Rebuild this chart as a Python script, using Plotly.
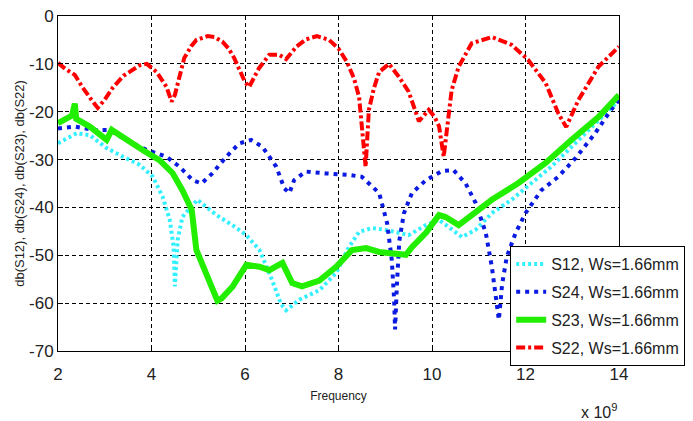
import plotly.graph_objects as go

# ---- data (frequency in units of 1e9 Hz, values in dB) ----
s12_x = [2.0, 2.2, 2.4, 2.68, 3.04, 3.39, 3.75, 4.03, 4.24, 4.39, 4.47, 4.5, 4.56, 4.66, 4.98, 5.39, 5.73, 6.03,
         6.31, 6.58, 6.77, 6.88, 7.16, 7.59, 7.95, 8.22, 8.44, 8.72, 9.01, 9.29, 9.5, 9.87, 10.15, 10.36, 10.64,
         10.93, 11.28, 11.7, 12.13, 12.55, 12.98, 13.41, 14.0]
s12_y = [-26.6, -25.5, -24.5, -24.9, -27.6, -29.4, -31.1, -33.6, -37.8, -42.6, -48.0, -56.5, -46.8, -42.0, -38.4,
         -41.6, -43.7, -45.8, -48.9, -55.2, -60.2, -61.5, -59.3, -57.3, -53.7, -48.3, -45.1, -44.3, -44.7, -45.3,
         -45.8, -43.7, -42.6, -44.1, -46.2, -44.7, -41.2, -38.4, -34.9, -31.5, -27.4, -23.2, -17.6]

s24_x = [2.0, 2.36, 2.75, 3.1, 3.47, 3.9, 4.32, 4.6, 4.88, 5.07, 5.3, 5.6, 5.88, 6.13, 6.37, 6.67, 6.84, 6.95,
         7.05, 7.3, 7.73, 8.22, 8.5, 8.87, 9.04, 9.14, 9.19, 9.21, 9.25, 9.3, 9.4, 9.57, 9.87, 10.21, 10.46, 10.72,
         10.93, 11.15, 11.28, 11.38, 11.43, 11.5, 11.6, 11.79, 12.0, 12.34, 12.7, 13.07, 13.49, 13.83, 14.0]
s24_y = [-23.5, -23.1, -23.8, -23.8, -26.0, -28.0, -29.4, -31.5, -34.3, -35.0, -32.9, -29.4, -26.6, -25.9, -27.3,
         -31.5, -36.0, -37.0, -34.3, -32.5, -32.9, -33.2, -33.6, -37.0, -43.3, -51.0, -59.3, -65.5, -56.0, -47.0,
         -41.2, -37.0, -34.3, -32.4, -32.2, -35.0, -39.0, -45.3, -52.4, -59.3, -63.5, -56.0, -50.3, -45.3, -41.2,
         -36.4, -33.6, -29.7, -24.5, -19.6, -17.6]

s23_x = [2.0, 2.26, 2.3, 2.36, 2.39, 2.68, 3.04, 3.15, 3.47, 3.81, 4.17, 4.45, 4.66, 4.86, 4.96, 5.18, 5.41, 5.5,
         5.73, 6.03, 6.31, 6.52, 6.8, 7.01, 7.22, 7.59, 7.95, 8.29, 8.59, 8.87, 9.44, 9.57, 9.87, 10.15, 10.29,
         10.57, 10.85, 11.28, 11.85, 12.43, 12.98, 13.56, 14.0]
s23_y = [-22.4, -21.1, -20.8, -18.3, -21.5, -23.1, -25.9, -23.8, -25.9, -28.0, -30.1, -32.8, -36.4, -40.5, -48.9,
         -54.5, -59.5, -59.0, -56.6, -52.0, -52.4, -53.1, -51.6, -55.8, -56.5, -55.3, -52.4, -48.9, -48.5, -49.3,
         -49.9, -48.3, -45.3, -41.6, -42.0, -43.7, -41.6, -38.4, -34.9, -30.7, -25.9, -21.1, -16.5]

s22_x = [2.0, 2.15, 2.36, 2.53, 2.7, 2.85, 3.0, 3.17, 3.4, 3.58, 3.75, 3.9, 4.11, 4.32, 4.43, 4.5, 4.56, 4.7, 4.85,
         4.96, 5.2, 5.35, 5.52, 5.65, 5.77, 5.9, 6.0, 6.09, 6.2, 6.3, 6.52, 6.73, 6.88, 7.1, 7.3, 7.54, 7.8, 8.0,
         8.18, 8.33, 8.44, 8.5, 8.55, 8.58, 8.65, 8.76, 8.87, 9.08, 9.29, 9.5, 9.72, 9.93, 10.05, 10.15, 10.25,
         10.32, 10.42, 10.57, 10.85, 11.28, 11.7, 12.06, 12.43, 12.7, 12.87, 13.13, 13.56, 14.0]
s22_y = [-9.8, -11.0, -12.3, -15.0, -17.3, -19.2, -17.5, -15.0, -12.5, -11.3, -10.3, -10.0, -11.7, -14.8, -17.9,
         -16.5, -14.0, -8.8, -6.3, -5.0, -4.2, -4.4, -5.4, -6.8, -8.8, -11.5, -13.8, -14.8, -12.8, -10.9, -8.1,
         -8.1, -9.0, -6.4, -4.9, -4.2, -5.0, -6.8, -9.6, -13.0, -16.9, -23.0, -27.0, -31.5, -19.6, -15.0, -11.7,
         -10.0, -12.7, -15.8, -22.0, -19.6, -21.0, -23.0, -29.4, -23.8, -15.5, -10.6, -5.7, -4.4, -6.0, -9.2,
         -14.0, -20.3, -23.2, -17.6, -10.6, -6.4]

names = ["S12, Ws=1.66mm", "S24, Ws=1.66mm", "S23, Ws=1.66mm", "S22, Ws=1.66mm"]
x_ticks = [2, 4, 6, 8, 10, 12, 14]
y_ticks = [0, -10, -20, -30, -40, -50, -60, -70]

FONT = "Arial, Liberation Sans, sans-serif"

fig = go.Figure()
fig.add_trace(go.Scatter(x=s12_x, y=s12_y, name=names[0], mode="lines", legendgroup="a",
                         line=dict(color="#33f0ff", width=4, dash="3px,3px")))
fig.add_trace(go.Scatter(x=s24_x, y=s24_y, name=names[1], mode="lines", legendgroup="b",
                         line=dict(color="#0a1ae0", width=4, dash="4px,5px")))
fig.add_trace(go.Scatter(x=s23_x, y=s23_y, name=names[2], mode="lines", legendgroup="c",
                         line=dict(color="#22ee00", width=6)))
fig.add_trace(go.Scatter(x=s22_x, y=s22_y, name=names[3], mode="lines", legendgroup="d",
                         line=dict(color="#ff0000", width=4, dash="9px,3px,3px,3px")))

axis_common = dict(showline=True, linecolor="black", linewidth=1, mirror=True,
                   showgrid=True, gridcolor="black", gridwidth=1, griddash="4px,3px",
                   ticks="inside", ticklen=5, tickcolor="black", zeroline=False,
                   automargin=False, ticklabeloverflow="allow",
                   tickfont=dict(family=FONT, size=17, color="#222"))

fig.update_xaxes(range=[2, 14], tickvals=x_ticks, ticktext=[str(t) for t in x_ticks],
                 ticklabelstandoff=8,
                 title=dict(text="Frequency", font=dict(size=12, color="#222"), standoff=8),
                 **axis_common)
fig.update_yaxes(range=[-70, 0], tickvals=y_ticks, ticktext=[str(t) for t in y_ticks],
                 title=dict(text="db(S12), db(S24), db(S23), db(S22)", font=dict(size=13, color="#222"),
                            standoff=1),
                 **axis_common)

fig.add_annotation(text="x 10<sup>9</sup>", xref="paper", yref="paper", x=1.0, y=-0.18,
                   xanchor="right", yanchor="middle", showarrow=False,
                   font=dict(family=FONT, size=16, color="#222"))

fig.update_layout(
    width=685, height=413,
    margin=dict(l=50, r=72, t=8, b=70),
    paper_bgcolor="white", plot_bgcolor="white",
    font=dict(family=FONT, color="#222"),
    legend=dict(x=0.806, y=0.313, xanchor="left", yanchor="top",
                bgcolor="white", bordercolor="black", borderwidth=1,
                font=dict(size=16, color="#222"), itemwidth=30, tracegroupgap=4,
                traceorder="grouped"),
    showlegend=True,
)

fig.write_html("out.html")
